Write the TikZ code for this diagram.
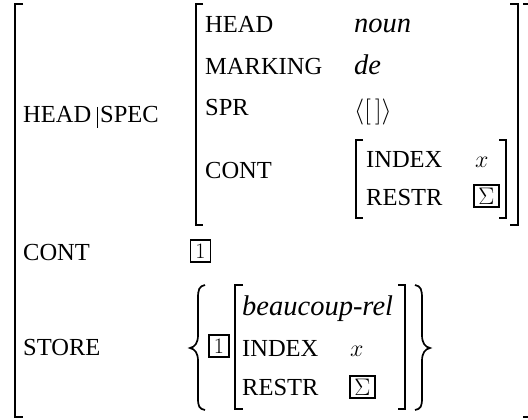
\RequirePackage{fix-cm}
\documentclass[tikz,border=0pt]{standalone}
\usepackage[no-math]{fontspec}
\setmainfont{Liberation Serif}
\begin{document}
\begin{tikzpicture}
        [x=1pt, y=-1pt,
        attr/.style={anchor=base west, inner sep=0pt, font=\fontsize{24.5}{28}\selectfont},
        val/.style={anchor=base west, inner sep=0pt, font=\fontsize{28.5}{32}\selectfont\itshape},
        mval/.style={anchor=base west, inner sep=0pt, font=\fontsize{24}{28}\selectfont},
        tag/.style={draw, line width=1.6pt, inner sep=0pt, minimum width=20pt, minimum height=22pt, font=\fontsize{22}{24}\selectfont},
        brk/.style={line width=1.6pt, black},
        brace/.style={line width=1.7pt, black}]

        \useasboundingbox (0,0) rectangle (528,420);
        \clip (0,0) rectangle (528,420);

        % outer matrix
        \node[attr] (head) at (23,122) {HEAD};
        \node[attr] (spec) at (100,122) {SPEC};
        \node[attr] (cont) at (23,260) {CONT};
        \node[attr] (store) at (23,355) {STORE};
        \draw[line width=0.8pt] (97,107) -- (97,128);

        % value of HEAD|SPEC
        \node[attr] (shead) at (205,33) {HEAD};
        \node[attr] (smark) at (205,75) {MARKING};
        \node[attr] (sspr) at (205,115) {SPR};
        \node[attr] (scont) at (205,178) {CONT};
        \node[val] (noun) at (354,33) {noun};
        \node[val] (de) at (354,75) {de};
        \node[mval, font=\fontsize{26}{30}\selectfont] (list) at (354,118) {$\langle[\,]\rangle$};
        \node[attr] (cindex) at (366,167) {INDEX};
        \node[attr] (crestr) at (366,205) {RESTR};
        \node[mval] (cx) at (475,167) {$x$};
        \node[tag, minimum width=25pt, font=\fontsize{24}{26}\selectfont] (csigma) at (486.5,196) {$\Sigma$};

        % value of CONT and STORE
        \node[tag] (tagcont) at (200.5,251) {$1$};
        \node[tag] (tagstore) at (219,346) {$1$};
        \node[val] (rel) at (242,315) {beaucoup-rel};
        \node[attr] (rindex) at (242,356) {INDEX};
        \node[attr] (rrestr) at (242,395) {RESTR};
        \node[mval] (rx) at (350,356) {$x$};
        \node[tag, minimum width=25pt, font=\fontsize{24}{26}\selectfont] (rsigma) at (362.5,387) {$\Sigma$};

        % brackets
        \draw[brk] (23,4) -- (15,4) -- (15,417) -- (23,417);
        \draw[brk] (523,4) -- (531,4) -- (531,417) -- (523,417);
        \draw[brk] (203,4) -- (196,4) -- (196,225) -- (203,225);
        \draw[brk] (510,4) -- (518,4) -- (518,225) -- (510,225);
        \draw[brk] (363,140) -- (356,140) -- (356,218) -- (363,218);
        \draw[brk] (499,140) -- (506,140) -- (506,218) -- (499,218);
        \draw[brk] (243,285) -- (235,285) -- (235,409) -- (243,409);
        \draw[brk] (398,285) -- (405,285) -- (405,409) -- (398,409);

        % set braces
        \draw[brace] (205,285) .. controls (199,286) and (198,290) .. (198,298) -- (198,335)
          .. controls (198,343) and (195,347) .. (190,348) .. controls (195,349) and (198,353) .. (198,361)
          -- (198,398) .. controls (198,406) and (199,409) .. (205,410);
        \draw[brace] (415,285) .. controls (421,286) and (422,290) .. (422,298) -- (422,335)
          .. controls (422,343) and (425,347) .. (430,348) .. controls (425,349) and (422,353) .. (422,361)
          -- (422,398) .. controls (422,406) and (421,409) .. (415,410);

\end{tikzpicture}
\end{document}
